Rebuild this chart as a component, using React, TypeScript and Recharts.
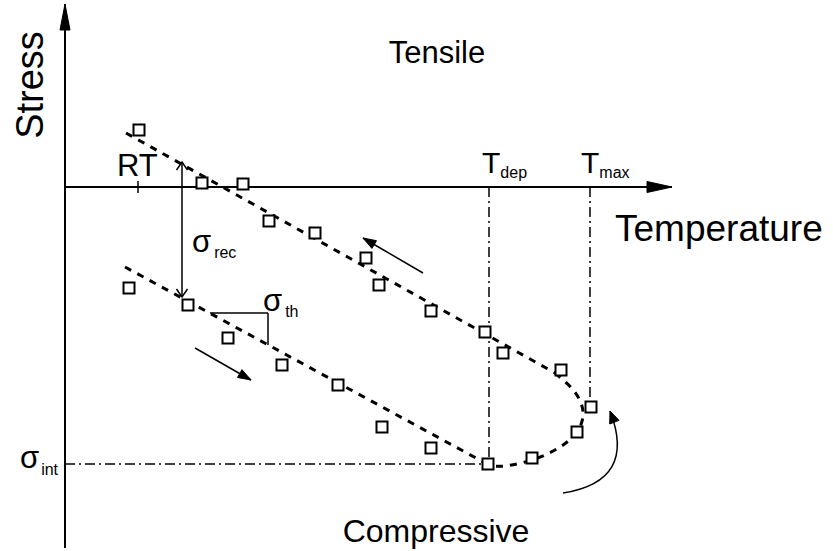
import React from 'react';
import { ComposedChart, Line, ReferenceDot, ReferenceLine, Scatter, XAxis, YAxis } from 'recharts';

// temperature (x) against stress (y), arbitrary units, origin at the axis crossing
const coolingPoints = [
  { x: 74, y: 57 }, { x: 137, y: 4 }, { x: 178, y: 3 }, { x: 204, y: -34 },
  { x: 250, y: -46 }, { x: 301, y: -71 }, { x: 314, y: -98 }, { x: 366, y: -124 },
  { x: 420, y: -145 }, { x: 438, y: -166 }, { x: 496, y: -183 }, { x: 526, y: -220 },
];
const heatingPoints = [
  { x: 64, y: -101 }, { x: 123, y: -118 }, { x: 163, y: -151 }, { x: 217, y: -178 },
  { x: 273, y: -198 }, { x: 317, y: -240 }, { x: 366, y: -261 }, { x: 423, y: -277 },
  { x: 467, y: -271 }, { x: 512, y: -245 },
];

// trend lines through the two branches and the relaxation loop at T_max
const coolingFit = [{ x: 61, y: 54 }, { x: 490, y: -186 }];
const heatingFit = [{ x: 60, y: -80 }, { x: 422, y: -277 }];
const relaxationCurve = [
  { x: 490, y: -186 }, { x: 509, y: -204 }, { x: 518, y: -225 }, { x: 512, y: -245 },
  { x: 495, y: -260 }, { x: 470, y: -272 }, { x: 440, y: -279 }, { x: 422, y: -278 },
];

const T_RT = 73;
const T_DEP = 424;
const T_MAX = 525;
const SIGMA_INT = -277;
const SIGMA_TMAX = -214;

const FONT = '"Liberation Sans", Arial, Helvetica, sans-serif';
const DOT_DASH = '10 4 2 4';

type ArrowOpts = {
  head?: 'filled' | 'open' | 'none';
  both?: boolean;
  len?: number;
  wid?: number;
  bend?: number;
  width?: number;
};

const headPath = (tx: number, ty: number, ux: number, uy: number, len: number, wid: number, closed: boolean) => {
  const bx = tx - ux * len;
  const by = ty - uy * len;
  const nx = -uy;
  const ny = ux;
  const a = `${bx + (nx * wid) / 2},${by + (ny * wid) / 2}`;
  const b = `${bx - (nx * wid) / 2},${by - (ny * wid) / 2}`;
  return closed ? `M${tx},${ty} L${a} L${b} Z` : `M${a} L${tx},${ty} L${b}`;
};

// straight or bent segment with optional arrow heads, drawn from the ReferenceLine endpoints
const arrow = (o: ArrowOpts = {}) => (p: any) => {
  const { x1, y1, x2, y2 } = p;
  const head = o.head ?? 'filled';
  const len = o.len ?? 12;
  const wid = o.wid ?? 9;
  const dx = x2 - x1;
  const dy = y2 - y1;
  const L = Math.hypot(dx, dy) || 1;
  let d = `M${x1},${y1} L${x2},${y2}`;
  let ex = dx / L;
  let ey = dy / L;
  if (o.bend) {
    const cx = (x1 + x2) / 2 + (-dy / L) * o.bend * L;
    const cy = (y1 + y2) / 2 + (dx / L) * o.bend * L;
    d = `M${x1},${y1} Q${cx},${cy} ${x2},${y2}`;
    const tl = Math.hypot(x2 - cx, y2 - cy) || 1;
    ex = (x2 - cx) / tl;
    ey = (y2 - cy) / tl;
  }
  const filled = head === 'filled';
  return (
    <g>
      <path d={d} fill="none" stroke="#000" strokeWidth={o.width ?? 1.5} />
      {head !== 'none' && (
        <path
          d={headPath(x2, y2, ex, ey, len, wid, filled)}
          fill={filled ? '#000' : 'none'}
          stroke="#000"
          strokeWidth={filled ? 1 : 1.5}
        />
      )}
      {head !== 'none' && o.both && (
        <path
          d={headPath(x1, y1, -dx / L, -dy / L, len, wid, filled)}
          fill={filled ? '#000' : 'none'}
          stroke="#000"
          strokeWidth={filled ? 1 : 1.5}
        />
      )}
    </g>
  );
};

type TextOpts = { size?: number; anchor?: 'start' | 'middle' | 'end'; subDx?: number; subDy?: number; rotate?: boolean };

const text = (main: string, sub?: string, o: TextOpts = {}) => (p: any) => (
  <text
    x={p.cx}
    y={p.cy}
    fontSize={o.size ?? 30}
    fontFamily={FONT}
    textAnchor={o.anchor ?? 'start'}
    fill="#000"
    transform={o.rotate ? `rotate(-90 ${p.cx} ${p.cy})` : undefined}
  >
    {main}
    {sub && (
      <tspan fontSize={16} dx={o.subDx ?? 0} dy={o.subDy ?? 6}>
        {sub}
      </tspan>
    )}
  </text>
);

const square = (p: any) => (
  <rect x={p.cx - 5.5} y={p.cy - 5.5} width={11} height={11} fill="#fff" stroke="#000" strokeWidth={2} />
);

export default function App() {
  return (
    <div style={{ position: 'absolute', left: 0, top: 0, background: '#fff' }}>
      <ComposedChart width={833} height={551} margin={{ top: 0, right: 0, bottom: 0, left: 0 }}>
        <XAxis type="number" dataKey="x" domain={[-65, 768]} allowDataOverflow hide />
        <YAxis type="number" dataKey="y" domain={[-364, 187]} allowDataOverflow hide />

        {/* axes */}
        <ReferenceLine ifOverflow="visible" segment={[{ x: 0, y: -361 }, { x: 0, y: 183 }]} shape={arrow({ len: 26, wid: 10, width: 2 })} />
        <ReferenceLine ifOverflow="visible" segment={[{ x: 0, y: 0 }, { x: 607, y: 0 }]} shape={arrow({ len: 25, wid: 11, width: 2 })} />
        <ReferenceLine ifOverflow="visible" segment={[{ x: T_RT, y: 6 }, { x: T_RT, y: -6 }]} shape={arrow({ head: 'none', width: 1.5 })} />

        {/* T_dep, T_max and sigma_int guides */}
        <ReferenceLine ifOverflow="visible" segment={[{ x: T_DEP, y: 0 }, { x: T_DEP, y: SIGMA_INT }]} stroke="#000" strokeWidth={1.5} strokeDasharray={DOT_DASH} />
        <ReferenceLine ifOverflow="visible" segment={[{ x: T_MAX, y: 0 }, { x: T_MAX, y: SIGMA_TMAX }]} stroke="#000" strokeWidth={1.5} strokeDasharray={DOT_DASH} />
        <ReferenceLine ifOverflow="visible" segment={[{ x: 0, y: SIGMA_INT }, { x: T_DEP, y: SIGMA_INT }]} stroke="#000" strokeWidth={1.5} strokeDasharray={DOT_DASH} />

        {/* trend lines */}
        <Line data={coolingFit} dataKey="y" type="linear" stroke="#000" strokeWidth={3} strokeDasharray="7 7" dot={false} activeDot={false} isAnimationActive={false} />
        <Line data={heatingFit} dataKey="y" type="linear" stroke="#000" strokeWidth={3} strokeDasharray="7 7" dot={false} activeDot={false} isAnimationActive={false} />
        <Line data={relaxationCurve} dataKey="y" type="natural" stroke="#000" strokeWidth={3} strokeDasharray="7 7" dot={false} activeDot={false} isAnimationActive={false} />

        {/* sigma_rec, sigma_th and direction arrows */}
        <ReferenceLine ifOverflow="visible" segment={[{ x: 117, y: -110 }, { x: 117, y: 25 }]} shape={arrow({ head: 'open', both: true, len: 8, wid: 11, width: 1.5 })} />
        <ReferenceLine ifOverflow="visible" segment={[{ x: 145, y: -126 }, { x: 203, y: -126 }]} shape={arrow({ head: 'none', width: 1.5 })} />
        <ReferenceLine ifOverflow="visible" segment={[{ x: 203, y: -126 }, { x: 203, y: -158 }]} shape={arrow({ head: 'none', width: 1.5 })} />
        <ReferenceLine ifOverflow="visible" segment={[{ x: 358, y: -86 }, { x: 298, y: -51 }]} shape={arrow({ len: 13, wid: 9 })} />
        <ReferenceLine ifOverflow="visible" segment={[{ x: 130, y: -161 }, { x: 186, y: -193 }]} shape={arrow({ len: 13, wid: 9 })} />
        <ReferenceLine ifOverflow="visible" segment={[{ x: 498, y: -306 }, { x: 545, y: -224 }]} shape={arrow({ len: 12, wid: 10, bend: 0.62 })} />

        {/* measured points */}
        <Scatter data={coolingPoints} shape={square} isAnimationActive={false} />
        <Scatter data={heatingPoints} shape={square} isAnimationActive={false} />

        {/* labels */}
        <ReferenceDot x={372} y={124} shape={text('Tensile', undefined, { size: 31, anchor: 'middle' })} />
        <ReferenceDot x={371} y={-355} shape={text('Compressive', undefined, { size: 32, anchor: 'middle' })} />
        <ReferenceDot x={550} y={-54} shape={text('Temperature', undefined, { size: 37 })} />
        <ReferenceDot x={-22} y={102} shape={text('Stress', undefined, { size: 38, anchor: 'middle', rotate: true })} />
        <ReferenceDot x={52} y={11} shape={text('RT', undefined, { size: 31 })} />
        <ReferenceDot x={417} y={14} shape={text('T', 'dep', { size: 30, subDx: 0, subDy: 5 })} />
        <ReferenceDot x={516} y={14} shape={text('T', 'max', { size: 30, subDx: 0, subDy: 5 })} />
        <ReferenceDot x={127} y={-65} shape={text('σ', 'rec', { size: 31, subDx: 3, subDy: 6 })} />
        <ReferenceDot x={198} y={-124} shape={text('σ', 'th', { size: 31, subDx: 3, subDy: 6 })} />
        <ReferenceDot x={-45} y={-281} shape={text('σ', 'int', { size: 31, subDx: 2, subDy: 7 })} />
      </ComposedChart>
    </div>
  );
}
